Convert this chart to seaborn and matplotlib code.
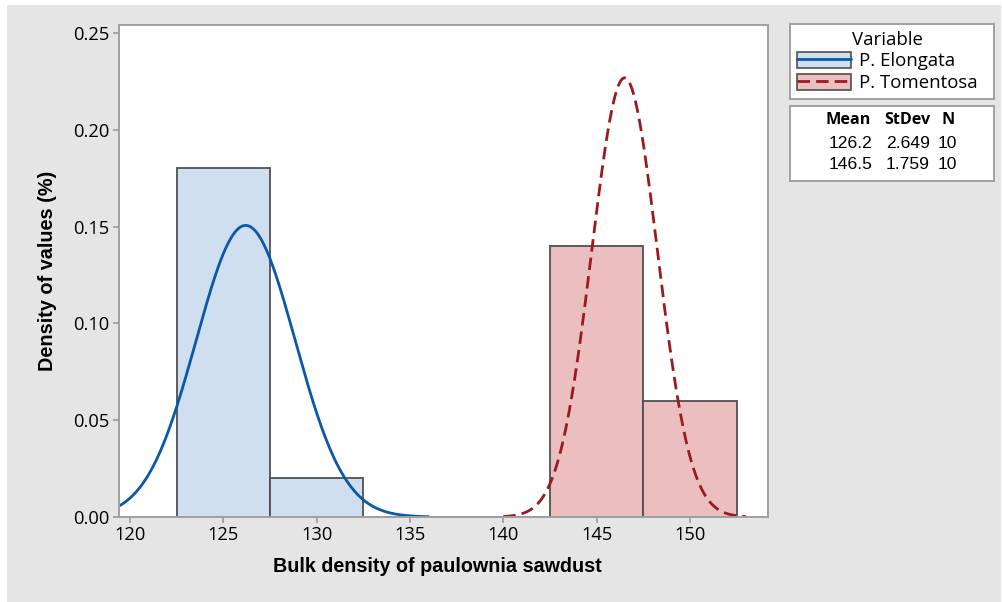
import numpy as np
import pandas as pd
import matplotlib
matplotlib.use("Agg")
import matplotlib.pyplot as plt
from matplotlib.patches import Patch, Rectangle
from matplotlib.lines import Line2D
import seaborn as sns

# ---------------- data ----------------
varieties = ["P. Elongata", "P. Tomentosa"]
bin_centers = [125, 130, 135, 140, 145, 150]
elongata_counts = [9, 1, 0, 0, 0, 0]
tomentosa_counts = [0, 0, 0, 0, 7, 3]
means = [126.2, 146.5]
stdevs = [2.649, 1.759]
ns = [10, 10]
x_ticks = [120, 125, 130, 135, 140, 145, 150]
y_ticks = [0.00, 0.05, 0.10, 0.15, 0.20, 0.25]
curve_ranges = [(119.43, 136.0), (140.0, 153.0)]

fill_colors = ["#cfdff0", "#ebbfbf"]
line_colors = ["#0a58a8", "#9b1a1e"]
edge_color = "#505050"
spine_color = "#a0a0a0"

sns.set_style("white")
plt.rcParams["font.family"] = ["Open Sans", "DejaVu Sans"]
plt.rcParams["text.color"] = "black"
plt.rcParams["axes.labelcolor"] = "black"
plt.rcParams["xtick.color"] = "black"
plt.rcParams["ytick.color"] = "black"

W, H = 1003, 602
fig = plt.figure(figsize=(W / 100, H / 100), dpi=100, facecolor="white")
# gray page background
fig.patches.append(Rectangle((7 / W, 0), (1001 - 7) / W, (597) / H,
                             transform=fig.transFigure, facecolor="#e5e5e5",
                             edgecolor="none", zorder=-10))


def fx(px):
    return px / W


def fy(py):
    return 1 - py / H


ax = fig.add_axes([fx(119.3), fy(517), fx(768.3) - fx(119.3), fy(25) - fy(517)])
ax.set_facecolor("white")

# histogram data frame
rows = []
for v, counts in zip(varieties, [elongata_counts, tomentosa_counts]):
    for c, n in zip(bin_centers, counts):
        rows.append({"variety": v, "center": float(c), "count": float(n)})
df = pd.DataFrame(rows)
bw = 5.0

sns.histplot(data=df, x="center", weights="count", hue="variety",
             hue_order=varieties, binwidth=bw,
             binrange=(bin_centers[0] - bw / 2, bin_centers[-1] + bw / 2),
             stat="density", common_norm=False,
             palette=dict(zip(varieties, fill_colors)),
             alpha=1, edgecolor=edge_color, linewidth=1.3, legend=False, ax=ax)

# fitted normal curves
for v, m, s, (a, b), col, ls in zip(varieties, means, stdevs, curve_ranges,
                                    line_colors, ["-", "--"]):
    xs = np.linspace(a, b, 500)
    ys = np.exp(-0.5 * ((xs - m) / s) ** 2) / (s * np.sqrt(2 * np.pi))
    cdf = pd.DataFrame({"x": xs, "y": ys})
    sns.lineplot(data=cdf, x="x", y="y", color=col, linewidth=2.0, ax=ax)
    l = ax.lines[-1]
    if ls == "--":
        l.set_dashes((4.5, 2.2))

ax.set_xlim(119.43, 154.2)
ax.set_ylim(0, 0.2541)
ax.set_xticks(x_ticks)
ax.set_yticks(y_ticks)
ax.set_yticklabels([f"{t:.2f}" for t in y_ticks])
ax.tick_params(axis="both", which="major", direction="out", length=4.3,
               width=1.3, color=spine_color, labelsize=13.2, labelcolor="black",
               bottom=True, left=True)
ax.tick_params(axis="x", pad=2)
ax.tick_params(axis="y", pad=3)
for sp in ax.spines.values():
    sp.set_color(spine_color)
    sp.set_linewidth(1.4)
    sp.set_visible(True)

ax.set_xlabel("")
ax.set_ylabel("")
fig.text(fx(437), fy(567), "Bulk density of paulownia sawdust",
         ha="center", va="center", fontsize=14.2, fontweight="bold",
         color="black", family=["Liberation Sans", "DejaVu Sans"])
fig.text(fx(48), fy(271), "Density of values (%)", rotation=90,
         ha="center", va="center", fontsize=14.3, fontweight="bold",
         color="black", family=["Liberation Sans", "DejaVu Sans"])

# ---------------- legend box ----------------
lax = fig.add_axes([fx(790), fy(99), fx(994) - fx(790), fy(24) - fy(99)])
lax.set_facecolor("white")
lax.set_xticks([])
lax.set_yticks([])
for sp in lax.spines.values():
    sp.set_color(spine_color)
    sp.set_linewidth(1.4)
handles = []
for fc, lc, ls in zip(fill_colors, line_colors, ["-", "--"]):
    p = Patch(facecolor=fc, edgecolor=edge_color, linewidth=1.2)
    ln = Line2D([], [], color=lc, linewidth=2.0, linestyle=ls)
    if ls == "--":
        ln.set_dashes((4.5, 2.2))
    handles.append((p, ln))
leg = lax.legend(handles, varieties, title="Variable", loc="center",
                 bbox_to_anchor=(0.5 - 5 / 204, 0.5),
                 frameon=False, fontsize=13.4, title_fontsize=13.4,
                 handlelength=2.95, handleheight=0.9, labelspacing=0.2,
                 handletextpad=0.4, borderpad=0.0, borderaxespad=0.0)
for t in leg.get_texts():
    t.set_color("black")
leg.get_title().set_color("black")

# ---------------- stats box ----------------
sax = fig.add_axes([fx(790), fy(181), fx(994) - fx(790), fy(106) - fy(181)])
sax.set_facecolor("white")
sax.set_xticks([])
sax.set_yticks([])
sax.set_xlim(790, 994)
sax.set_ylim(181, 106)
for sp in sax.spines.values():
    sp.set_color(spine_color)
    sp.set_linewidth(1.4)
hdr_font = dict(fontsize=11.6, fontweight="bold", color="black",
                family=["Open Sans", "DejaVu Sans"])
val_font = dict(fontsize=12.6, color="black",
                family=["Liberation Sans", "DejaVu Sans"])
sax.text(871, 119.5, "Mean", ha="right", va="center", **hdr_font)
sax.text(930, 119.5, "StDev", ha="right", va="center", **hdr_font)
sax.text(942, 119.5, "N", ha="left", va="center", **hdr_font)
for yy, m, s, n in zip([143, 164.7], means, stdevs, ns):
    sax.text(873, yy, f"{m:.1f}", ha="right", va="center", **val_font)
    sax.text(930, yy, f"{s:.3f}", ha="right", va="center", **val_font)
    sax.text(938, yy, f"{n}", ha="left", va="center", **val_font)

fig.savefig("out.png", dpi=100, facecolor="white")
